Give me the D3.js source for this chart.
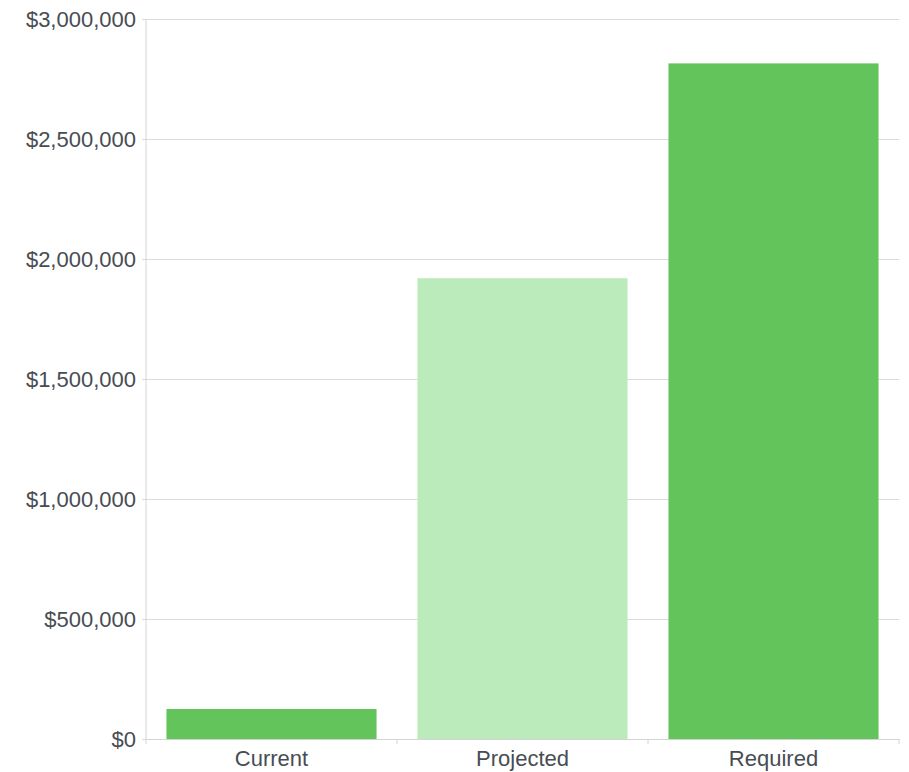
<!DOCTYPE html>
<html>

<head>
  <style>
    body { margin: 0; background: #fff; }
    .tick text {
      font: 22px "Liberation Sans", Arial, sans-serif;
      fill: #474d53;
    }
  </style>
  <script src="https://d3js.org/d3.v7.min.js"></script>
</head>

<body>
  <svg width="909" height="772"></svg>
  <script>
    var categories = ["Current", "Projected", "Required"];
    var values = [125000, 1920000, 2815000];
    var barColors = ["#62c45a", "#bbebbb", "#62c45a"];
    var yTicks = [0, 500000, 1000000, 1500000, 2000000, 2500000, 3000000];

    var svg = d3.select("svg"),
      margin = { top: 19, right: 10, bottom: 33, left: 146 },
      width = 909 - margin.left - margin.right,
      height = 772 - margin.top - margin.bottom;

    var g = svg.append("g").attr("transform", "translate(" + margin.left + "," + margin.top + ")");

    var x = d3.scaleBand().domain(categories).range([0, width])
      .paddingInner(0.163).paddingOuter(0.0815);
    var y = d3.scaleLinear().domain([0, 3000000]).range([height, 0]);

    // grid + y axis
    var yAxis = g.append("g")
      .call(d3.axisLeft(y).tickValues(yTicks).tickSize(-width - 4).tickPadding(7)
        .tickFormat(function (d) { return "$" + d3.format(",")(d); }))
      .attr("transform", "translate(-4,0)");
    yAxis.select(".domain").remove();
    yAxis.selectAll(".tick line").attr("stroke", "#dcdcdc").attr("x1", 0);
    yAxis.selectAll(".tick line").attr("x2", width + 4);
    yAxis.selectAll(".tick text").attr("x", -6);

    g.append("line").attr("x1", 0).attr("x2", 0).attr("y1", 0).attr("y2", height)
      .attr("stroke", "#d4d4d4");

    // bars
    g.selectAll(".bar")
      .data(values)
      .enter()
      .append("rect")
      .attr("class", "bar")
      .attr("x", function (d, i) { return x(categories[i]); })
      .attr("width", x.bandwidth())
      .attr("y", function (d) { return y(d); })
      .attr("height", function (d) { return height - y(d); })
      .attr("fill", function (d, i) { return barColors[i]; });

    // x axis
    var xAxis = g.append("g")
      .attr("transform", "translate(0," + height + ")")
      .call(d3.axisBottom(x).tickSize(0).tickPadding(11));
    xAxis.select(".domain").attr("stroke", "#d4d4d4");
    xAxis.selectAll(".tick text").attr("dy", "0.71em");

    // category boundary ticks
    var bounds = [0].concat(categories.map(function (c) { return x(c) + x.bandwidth() + x.step() * x.paddingInner() / 2; }));
    bounds[bounds.length - 1] = width;
    g.selectAll(".btick")
      .data(bounds)
      .enter()
      .append("line")
      .attr("x1", function (d) { return d; })
      .attr("x2", function (d) { return d; })
      .attr("y1", height)
      .attr("y2", height + 5)
      .attr("stroke", "#d4d4d4");
  </script>
</body>

</html>
